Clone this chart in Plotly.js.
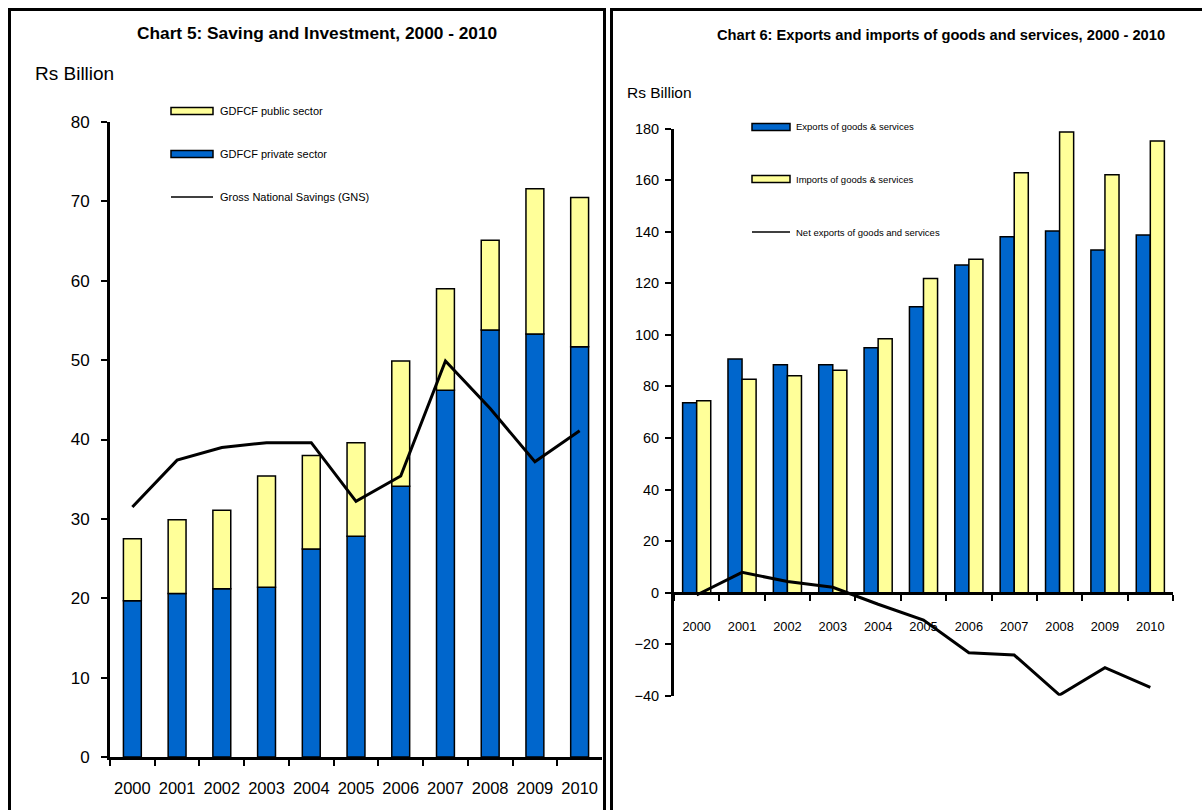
<!DOCTYPE html>
<html>
<head>
<meta charset="utf-8">
<script src="https://cdn.plot.ly/plotly-3.0.1.min.js"></script>
<style>html,body{margin:0;padding:0;background:#fff;}#chart{width:1202px;height:810px;}</style>
</head>
<body>
<div id="chart"></div>
<script>
// ---------- data ----------
const years = ['2000','2001','2002','2003','2004','2005','2006','2007','2008','2009','2010'];

// Chart 5 (Rs Billion)
const gdfcfPrivate = [19.7, 20.6, 21.2, 21.4, 26.2, 27.8, 34.1, 46.2, 53.8, 53.3, 51.7];
const gdfcfPublic  = [7.8, 9.3, 9.9, 14.0, 11.8, 11.8, 15.8, 12.8, 11.3, 18.3, 18.8];
const gns          = [31.5, 37.4, 39.0, 39.6, 39.6, 32.2, 35.4, 49.9, 43.9, 37.2, 41.1];

// Chart 6 (Rs Billion)
const exportsGS = [73.7, 90.6, 88.4, 88.4, 95.0, 110.9, 127.1, 138.1, 140.3, 132.9, 138.7];
const importsGS = [74.4, 82.8, 84.1, 86.3, 98.5, 121.9, 129.3, 162.9, 178.7, 162.1, 175.2];
const netExports = [-0.9, 7.9, 4.3, 2.1, -4.5, -10.6, -23.3, -24.2, -39.7, -29.1, -36.7];

const leftTicks = [0, 10, 20, 30, 40, 50, 60, 70, 80];
const rightTicks = [-40, -20, 0, 20, 40, 60, 80, 100, 120, 140, 160, 180];

// ---------- styles ----------
const W = 1202, H = 810;
const ARIAL = 'Liberation Sans, Arial, sans-serif';
const BLUE = '#0066CC', YELLOW = '#FFFF99';
const px = v => v / W;
const py = v => 1 - v / H;

const leftRange = [0, 80];
const rightRange = [-40, 180];
const rightDomain = [py(695.8), py(128.6)];
const zeroPos = rightDomain[0] + (0 - rightRange[0]) / (rightRange[1] - rightRange[0]) * (rightDomain[1] - rightDomain[0]);

const traces = [
  {type:'bar', x: years, y: gdfcfPrivate, name:'GDFCF private sector', xaxis:'x', yaxis:'y',
   width:0.4, offset:-0.2, marker:{color:BLUE, line:{color:'#000', width:1.5}}, showlegend:false},
  {type:'bar', x: years, y: gdfcfPublic, base: gdfcfPrivate, name:'GDFCF public sector', xaxis:'x', yaxis:'y',
   width:0.4, offset:-0.2, marker:{color:YELLOW, line:{color:'#000', width:1.5}}, showlegend:false},
  {type:'scatter', mode:'lines', x: years, y: gns, name:'Gross National Savings (GNS)', xaxis:'x', yaxis:'y',
   line:{color:'#000', width:3}, showlegend:false},
  {type:'bar', x: years, y: exportsGS, name:'Exports of goods & services', xaxis:'x2', yaxis:'y2',
   width:0.31, offset:-0.31, marker:{color:BLUE, line:{color:'#000', width:1.5}}, showlegend:false},
  {type:'bar', x: years, y: importsGS, name:'Imports of goods & services', xaxis:'x2', yaxis:'y2',
   width:0.31, offset:0, marker:{color:YELLOW, line:{color:'#000', width:1.5}}, showlegend:false},
  {type:'scatter', mode:'lines', x: years, y: netExports, name:'Net exports of goods and services', xaxis:'x2', yaxis:'y2',
   line:{color:'#000', width:3}, showlegend:false}
];

const axisCommon = {showline:true, linecolor:'#000', ticks:'outside', tickcolor:'#000', showgrid:false, zeroline:false, fixedrange:true};

const layout = {
  width: W, height: H,
  margin:{l:0, r:0, t:0, b:0},
  paper_bgcolor:'#fff', plot_bgcolor:'rgba(0,0,0,0)',
  barmode:'overlay',
  showlegend:false,
  xaxis: Object.assign({}, axisCommon, {domain:[px(110), px(602)], anchor:'y', type:'category',
    tickson:'boundaries', linewidth:3, ticklen:6, tickwidth:2, ticklabelstandoff:14, tickangle:0,
    tickfont:{family:ARIAL, size:16.5, color:'#000'}}),
  yaxis: Object.assign({}, axisCommon, {domain:[py(757), py(122)], anchor:'x', range:leftRange,
    tickvals:leftTicks, linewidth:3, ticklen:6, tickwidth:2, ticklabelstandoff:8,
    tickfont:{family:ARIAL, size:17, color:'#000'}}),
  xaxis2: Object.assign({}, axisCommon, {domain:[px(674), px(1173)], anchor:'free', position: zeroPos, type:'category',
    tickson:'boundaries', linewidth:3, ticklen:6, tickwidth:2, ticklabelstandoff:21, tickangle:0,
    tickfont:{family:ARIAL, size:12.8, color:'#000'}}),
  yaxis2: Object.assign({}, axisCommon, {domain: rightDomain, anchor:'x2', range:rightRange,
    tickvals:rightTicks, linewidth:3, ticklen:6, tickwidth:2, ticklabelstandoff:3,
    tickfont:{family:ARIAL, size:14.5, color:'#000'}}),
  shapes: [
    {type:'rect', xref:'paper', yref:'paper', x0:px(9.5), x1:px(604.5), y0:py(830), y1:py(9.5), line:{color:'#000', width:3}},
    {type:'rect', xref:'paper', yref:'paper', x0:px(611.5), x1:px(1215), y0:py(830), y1:py(9.5), line:{color:'#000', width:3}},
    // left legend symbols
    {type:'rect', xref:'paper', yref:'paper', x0:px(171), x1:px(213), y0:py(114.5), y1:py(107.5), fillcolor:YELLOW, line:{color:'#000', width:1.5}},
    {type:'rect', xref:'paper', yref:'paper', x0:px(171), x1:px(213), y0:py(157.5), y1:py(150.5), fillcolor:BLUE, line:{color:'#000', width:1.5}},
    {type:'line', xref:'paper', yref:'paper', x0:px(171), x1:px(213), y0:py(197), y1:py(197), line:{color:'#000', width:1.5}},
    // right legend symbols
    {type:'rect', xref:'paper', yref:'paper', x0:px(752), x1:px(790), y0:py(130.5), y1:py(123.5), fillcolor:BLUE, line:{color:'#000', width:1.5}},
    {type:'rect', xref:'paper', yref:'paper', x0:px(752), x1:px(790), y0:py(182.5), y1:py(175.5), fillcolor:YELLOW, line:{color:'#000', width:1.5}},
    {type:'line', xref:'paper', yref:'paper', x0:px(752), x1:px(790), y0:py(232), y1:py(232), line:{color:'#000', width:1.5}}
  ],
  annotations: [
    {text:'<b>Chart 5: Saving and Investment, 2000 - 2010</b>', xref:'paper', yref:'paper', x:px(317), y:py(33),
     xanchor:'center', yanchor:'middle', showarrow:false, font:{family:ARIAL, size:17.3, color:'#000'}},
    {text:'Rs Billion', xref:'paper', yref:'paper', x:px(33), y:py(73), xanchor:'left', yanchor:'middle', showarrow:false,
     font:{family:ARIAL, size:19, color:'#000'}},
    {text:'GDFCF public sector', xref:'paper', yref:'paper', x:px(218), y:py(111), xanchor:'left', yanchor:'middle', showarrow:false,
     font:{family:ARIAL, size:11, color:'#000'}},
    {text:'GDFCF private sector', xref:'paper', yref:'paper', x:px(218), y:py(154), xanchor:'left', yanchor:'middle', showarrow:false,
     font:{family:ARIAL, size:11, color:'#000'}},
    {text:'Gross National Savings (GNS)', xref:'paper', yref:'paper', x:px(218), y:py(197), xanchor:'left', yanchor:'middle', showarrow:false,
     font:{family:ARIAL, size:11, color:'#000'}},
    {text:'<b>Chart 6: Exports and imports of goods and services, 2000 - 2010</b>', xref:'paper', yref:'paper', x:px(941), y:py(35),
     xanchor:'center', yanchor:'middle', showarrow:false, font:{family:ARIAL, size:14.7, color:'#000'}},
    {text:'Rs Billion', xref:'paper', yref:'paper', x:px(625), y:py(92), xanchor:'left', yanchor:'middle', showarrow:false,
     font:{family:ARIAL, size:15.5, color:'#000'}},
    {text:'Exports of goods & services', xref:'paper', yref:'paper', x:px(794), y:py(127), xanchor:'left', yanchor:'middle', showarrow:false,
     font:{family:ARIAL, size:9.5, color:'#000'}},
    {text:'Imports of goods & services', xref:'paper', yref:'paper', x:px(794), y:py(179), xanchor:'left', yanchor:'middle', showarrow:false,
     font:{family:ARIAL, size:9.5, color:'#000'}},
    {text:'Net exports of goods and services', xref:'paper', yref:'paper', x:px(794), y:py(232), xanchor:'left', yanchor:'middle', showarrow:false,
     font:{family:ARIAL, size:9.5, color:'#000'}}
  ]
};

Plotly.newPlot('chart', traces, layout, {displayModeBar:false, staticPlot:true});
</script>
</body>
</html>
